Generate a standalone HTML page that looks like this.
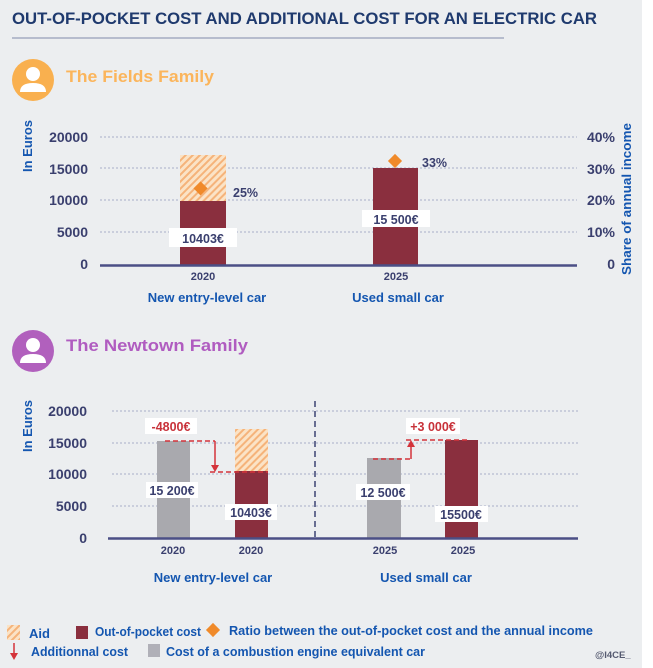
<!DOCTYPE html>
<html><head><meta charset="utf-8"><style>
html,body{margin:0;padding:0;}
body{width:653px;height:668px;background:#fff;overflow:hidden;}
svg{display:block;}
text{font-family:"Liberation Sans",sans-serif;font-weight:bold;}
.t{fill:#3a3f6e;font-size:14px;}
.b{fill:#1456b0;font-size:13px;}
.v{fill:#3a3f6e;font-size:12.5px;}
.y{fill:#3a3f6e;font-size:11px;}
</style></head><body>
<svg width="653" height="668" viewBox="0 0 653 668" xmlns="http://www.w3.org/2000/svg">
<defs>
<pattern id="h" width="5" height="5" patternUnits="userSpaceOnUse" patternTransform="rotate(45)">
<rect width="5" height="5" fill="#fbe3c6"/><rect width="2" height="5" fill="#f5b37a"/>
</pattern>
</defs>
<rect x="0" y="0" width="642" height="668" fill="#eceef0"/>
<text x="12" y="24" fill="#1f3a6e" font-size="17" textLength="585" lengthAdjust="spacingAndGlyphs">OUT-OF-POCKET COST AND ADDITIONAL COST FOR AN ELECTRIC CAR</text>
<line x1="12" y1="38" x2="504" y2="38" stroke="#b6bccd" stroke-width="2"/>

<!-- Fields family -->
<circle cx="33" cy="80" r="21" fill="#f9b04f"/>
<circle cx="33" cy="74" r="7" fill="#fff"/>
<path d="M20 92 Q20 83 33 83 Q46 83 46 92 Z" fill="#fff"/>
<text x="66" y="82" fill="#fbb55c" font-size="17" textLength="148" lengthAdjust="spacingAndGlyphs">The Fields Family</text>

<g stroke="#a7aec8" stroke-width="1" stroke-dasharray="2,2">
<line x1="100" y1="137" x2="577" y2="137"/><line x1="100" y1="168" x2="577" y2="168"/>
<line x1="100" y1="200" x2="577" y2="200"/><line x1="100" y1="232" x2="577" y2="232"/>
</g>
<g class="t" text-anchor="end">
<text x="88" y="142" class="t">20000</text><text x="88" y="174" class="t">15000</text>
<text x="88" y="205" class="t">10000</text><text x="88" y="237" class="t">5000</text><text x="88" y="269" class="t">0</text>
<text x="615" y="142" class="t">40%</text><text x="615" y="174" class="t">30%</text>
<text x="615" y="205" class="t">20%</text><text x="615" y="237" class="t">10%</text><text x="615" y="269" class="t">0</text>
</g>
<text class="b" transform="translate(32,146) rotate(-90)" text-anchor="middle" font-size="12">In Euros</text>
<text class="b" transform="translate(631,199) rotate(-90)" text-anchor="middle" font-size="12.5" textLength="152" lengthAdjust="spacingAndGlyphs">Share of annual income</text>

<rect x="180" y="155" width="46" height="46" fill="url(#h)"/>
<rect x="180" y="201" width="46" height="64" fill="#8a2f3e"/>
<rect x="373" y="168" width="45" height="97" fill="#8a2f3e"/>
<line x1="100" y1="265.5" x2="577" y2="265.5" stroke="#4b4f86" stroke-width="2.5"/>
<rect x="197" y="182" width="10" height="10" fill="#f08a2a" transform="rotate(45 202 187) translate(0,2)"/>
<rect x="390" y="156" width="10" height="10" fill="#f08a2a" transform="rotate(45 395 161)"/>
<text x="233" y="197" class="v">25%</text>
<text x="422" y="167" class="v">33%</text>
<rect x="169" y="228" width="68" height="19" fill="#fff"/>
<text x="203" y="243" class="v" text-anchor="middle">10403€</text>
<rect x="362" y="210" width="68" height="17" fill="#fff"/>
<text x="396" y="224" class="v" text-anchor="middle">15 500€</text>
<text x="203" y="280" class="y" text-anchor="middle">2020</text>
<text x="396" y="280" class="y" text-anchor="middle">2025</text>
<text x="207" y="302" class="b" text-anchor="middle">New entry-level car</text>
<text x="398" y="302" class="b" text-anchor="middle">Used small car</text>

<!-- Newtown family -->
<circle cx="33" cy="351" r="21" fill="#b160bd"/>
<circle cx="33" cy="345" r="7" fill="#fff"/>
<path d="M20 363 Q20 354 33 354 Q46 354 46 363 Z" fill="#fff"/>
<text x="66" y="351" fill="#b05cc0" font-size="17" textLength="182" lengthAdjust="spacingAndGlyphs">The Newtown Family</text>

<g stroke="#a7aec8" stroke-width="1" stroke-dasharray="2,2">
<line x1="112" y1="411" x2="578" y2="411"/><line x1="112" y1="443" x2="578" y2="443"/>
<line x1="112" y1="474" x2="578" y2="474"/><line x1="112" y1="506" x2="578" y2="506"/>
</g>
<text x="87" y="416" class="t" text-anchor="end">20000</text><text x="87" y="448" class="t" text-anchor="end">15000</text>
<text x="87" y="479" class="t" text-anchor="end">10000</text><text x="87" y="511" class="t" text-anchor="end">5000</text>
<text x="87" y="543" class="t" text-anchor="end">0</text>
<text class="b" transform="translate(32,426) rotate(-90)" text-anchor="middle" font-size="12">In Euros</text>
<line x1="315" y1="401" x2="315" y2="538" stroke="#3d4372" stroke-width="1.5" stroke-dasharray="6,4"/>

<rect x="157" y="441" width="33" height="97" fill="#a9a9ae"/>
<rect x="235" y="429" width="33" height="42" fill="url(#h)"/>
<rect x="235" y="471" width="33" height="67" fill="#8a2f3e"/>
<rect x="367" y="458" width="34" height="80" fill="#a9a9ae"/>
<rect x="445" y="440" width="33" height="98" fill="#8a2f3e"/>
<line x1="108" y1="538.5" x2="578" y2="538.5" stroke="#4b4f86" stroke-width="2.5"/>

<g stroke="#d4333a" stroke-width="1.5" fill="none">
<line x1="165" y1="441" x2="215" y2="441" stroke-dasharray="5,3"/>
<line x1="215" y1="441" x2="215" y2="466"/>
<line x1="210" y1="472" x2="268" y2="472" stroke-dasharray="5,3"/>
<line x1="373" y1="459" x2="411" y2="459" stroke-dasharray="5,3"/>
<line x1="411" y1="459" x2="411" y2="446"/>
<line x1="406" y1="440" x2="470" y2="440" stroke-dasharray="5,3"/>
</g>
<path d="M211 465 L219 465 L215 472 Z" fill="#d4333a"/>
<path d="M407 447 L415 447 L411 440 Z" fill="#d4333a"/>
<rect x="145" y="418" width="52" height="16" fill="#fff"/>
<text x="171" y="431" fill="#c8323a" font-size="12.5" text-anchor="middle">-4800€</text>
<rect x="406" y="418" width="54" height="16" fill="#fff"/>
<text x="433" y="431" fill="#c8323a" font-size="12.5" text-anchor="middle">+3 000€</text>
<rect x="146" y="482" width="52" height="16" fill="#fff"/>
<text x="172" y="495" class="v" text-anchor="middle">15 200€</text>
<rect x="225" y="504" width="52" height="16" fill="#fff"/>
<text x="251" y="517" class="v" text-anchor="middle">10403€</text>
<rect x="356" y="484" width="54" height="16" fill="#fff"/>
<text x="383" y="497" class="v" text-anchor="middle">12 500€</text>
<rect x="435" y="506" width="53" height="16" fill="#fff"/>
<text x="461" y="519" class="v" text-anchor="middle">15500€</text>
<text x="173" y="554" class="y" text-anchor="middle">2020</text>
<text x="251" y="554" class="y" text-anchor="middle">2020</text>
<text x="385" y="554" class="y" text-anchor="middle">2025</text>
<text x="463" y="554" class="y" text-anchor="middle">2025</text>
<text x="213" y="582" class="b" text-anchor="middle">New entry-level car</text>
<text x="426" y="582" class="b" text-anchor="middle">Used small car</text>

<!-- legend -->
<rect x="7" y="625" width="13" height="15" fill="url(#h)"/>
<text x="29" y="638" class="b" font-size="12.5">Aid</text>
<rect x="76" y="626" width="12" height="13" fill="#8a2f3e"/>
<text x="95" y="636" class="b" font-size="11.5" textLength="106" lengthAdjust="spacingAndGlyphs">Out-of-pocket cost</text>
<rect x="208" y="625" width="10" height="10" fill="#f08a2a" transform="rotate(45 213 630)"/>
<text x="229" y="635" class="b" font-size="11.5" textLength="364" lengthAdjust="spacingAndGlyphs">Ratio between the out-of-pocket cost and the annual income</text>
<line x1="14" y1="643" x2="14" y2="654" stroke="#d4333a" stroke-width="1.5"/>
<path d="M10 653 L18 653 L14 660 Z" fill="#d4333a"/>
<text x="31" y="656" class="b" font-size="11.5" textLength="97" lengthAdjust="spacingAndGlyphs">Additionnal cost</text>
<rect x="148" y="644" width="12" height="13" fill="#b0b0b8"/>
<text x="166" y="656" class="b" font-size="11.5" textLength="259" lengthAdjust="spacingAndGlyphs">Cost of a combustion engine equivalent car</text>
<text x="595" y="658" fill="#555a70" font-size="9.5" font-weight="normal">@I4CE_</text>
</svg>
</body></html>
